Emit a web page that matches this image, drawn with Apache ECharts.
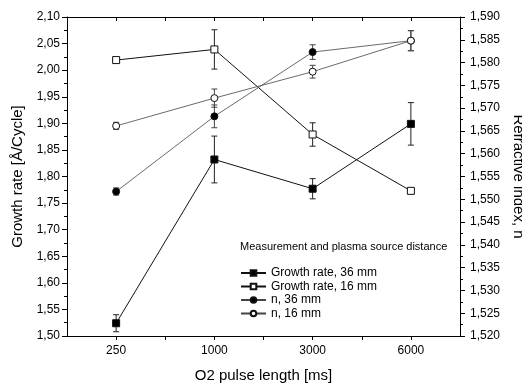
<!DOCTYPE html>
<html>
<head>
<meta charset="utf-8">
<script src="https://cdn.jsdelivr.net/npm/echarts@6/dist/echarts.min.js"></script>
<style>
  html, body { margin: 0; padding: 0; background: #fff; }
  #chart { width: 522px; height: 383px; }
</style>
</head>
<body>
<div id="chart"></div>
<script>
// 脉冲长度分类
var pulses = ['250', '1000', '3000', '6000'];

// 生长速率 (左轴)
var growth36 = [1.524, 1.832, 1.777, 1.899];
var growth36Err = [0.016, 0.044, 0.019, 0.040];
var growth16 = [2.019, 2.039, 1.879, 1.773];
var growth16Err = [0.003, 0.037, 0.022, 0.003];

// 折射率 (右轴)
var n36 = [1.5517, 1.5682, 1.5823, 1.5848];
var n36Err = [0.0008, 0.0025, 0.0016, 0.0022];
var n16 = [1.5661, 1.5722, 1.5780, 1.5848];
var n16Err = [0.0008, 0.0020, 0.0014, 0.0022];

var font = 'Liberation Sans, Arial, sans-serif';

(function(){

var chart = echarts.init(document.getElementById('chart'));

function pts(arr) {
    return arr.map(function (v, i) { return [i, v]; });
}
function errPts(arr, err) {
    return arr.map(function (v, i) { return [i, v - err[i], v + err[i]]; });
}

// 误差棒
function errorBar(name, arr, err, yIndex, color) {
    return {
        name: name + ' err',
        type: 'custom',
        yAxisIndex: yIndex,
        z: 1,
        silent: true,
        data: errPts(arr, err),
        renderItem: function (params, api) {
            var lo = api.coord([api.value(0), api.value(1)]);
            var hi = api.coord([api.value(0), api.value(2)]);
            var w = 3;
            var style = { stroke: color, lineWidth: 1 };
            return {
                type: 'group',
                children: [
                    { type: 'line', shape: { x1: lo[0], y1: lo[1], x2: hi[0], y2: hi[1] }, style: style },
                    { type: 'line', shape: { x1: lo[0] - w, y1: lo[1], x2: lo[0] + w, y2: lo[1] }, style: style },
                    { type: 'line', shape: { x1: hi[0] - w, y1: hi[1], x2: hi[0] + w, y2: hi[1] }, style: style }
                ]
            };
        }
    };
}

function lineSeries(name, arr, yIndex, symbol, size, fill, lineColor, lineWidth) {
    return {
        name: name,
        type: 'line',
        yAxisIndex: yIndex,
        z: 3,
        data: pts(arr),
        symbol: symbol,
        symbolSize: size,
        showAllSymbol: true,
        itemStyle: { color: fill, borderColor: '#111', borderWidth: 1 },
        lineStyle: { color: lineColor, width: lineWidth }
    };
}

var axisLine = { show: true, onZero: false, lineStyle: { color: '#000', width: 1 } };

option = {
    animation: false,
    textStyle: { fontFamily: font },
    grid: {
        left: 67,
        right: 62,
        top: 17,
        bottom: 47,
        outerBoundsMode: 'none'
    },
    graphic: [
        {
            type: 'text',
            left: 240,
            top: 241,
            style: { text: 'Measurement and plasma source distance', fill: '#000', font: '11px ' + font }
        }
    ],
    legend: {
        left: 240,
        top: 267,
        padding: 0,
        orient: 'vertical',
        itemWidth: 25,
        itemHeight: 7,
        itemGap: 1.5,
        textStyle: { fontSize: 12, lineHeight: 12, color: '#000', fontFamily: font },
        data: ['Growth rate, 36 mm', 'Growth rate, 16 mm', 'n, 36 mm', 'n, 16 mm']
    },
    xAxis: [
        {
            type: 'value',
            min: -0.5,
            max: 3.5,
            interval: 0.5,
            name: 'O2 pulse length [ms]',
            nameLocation: 'middle',
            nameGap: 32,
            nameTextStyle: { fontSize: 15, color: '#000' },
            axisLine: axisLine,
            axisTick: { show: true, inside: false, length: 4, lineStyle: { color: '#000' } },
            axisLabel: {
                color: '#000',
                fontSize: 12,
                margin: 9,
                showMinLabel: false,
                showMaxLabel: false,
                formatter: function (v) {
                    return Number.isInteger(v) ? pulses[v] : '';
                }
            },
            splitLine: { show: false }
        },
        {
            type: 'value',
            position: 'top',
            min: -0.5,
            max: 3.5,
            interval: 0.5,
            axisLine: axisLine,
            axisTick: { show: true, inside: true, length: 4, lineStyle: { color: '#000' } },
            axisLabel: { show: false },
            splitLine: { show: false }
        }
    ],
    yAxis: [
        {
            type: 'value',
            min: 1.5,
            max: 2.1,
            interval: 0.05,
            name: 'Growth rate [Å/Cycle]',
            nameLocation: 'middle',
            nameGap: 41,
            nameTextStyle: { fontSize: 15, color: '#000' },
            axisLine: axisLine,
            axisTick: { show: true, length: 5, lineStyle: { color: '#000' } },
            minorTick: { show: true, splitNumber: 2, length: 3, lineStyle: { color: '#000' } },
            axisLabel: {
                color: '#000',
                fontSize: 12,
                margin: 7,
                formatter: function (v) { return v.toFixed(2).replace('.', ','); }
            },
            splitLine: { show: false }
        },
        {
            type: 'value',
            position: 'right',
            min: 1.52,
            max: 1.59,
            interval: 0.005,
            name: 'Refractive index, n',
            nameLocation: 'middle',
            nameGap: 50,
            nameRotate: -90,
            nameTextStyle: { fontSize: 15, color: '#000' },
            axisLine: axisLine,
            axisTick: { show: true, length: 5, lineStyle: { color: '#000' } },
            minorTick: { show: true, splitNumber: 2, length: 3, lineStyle: { color: '#000' } },
            axisLabel: {
                color: '#000',
                fontSize: 12,
                margin: 10,
                formatter: function (v) { return v.toFixed(3).replace('.', ','); }
            },
            splitLine: { show: false }
        }
    ],
    series: [
        errorBar('Growth rate, 36 mm', growth36, growth36Err, 0, '#222'),
        errorBar('Growth rate, 16 mm', growth16, growth16Err, 0, '#222'),
        errorBar('n, 36 mm', n36, n36Err, 1, '#444'),
        errorBar('n, 16 mm', n16, n16Err, 1, '#444'),
        lineSeries('Growth rate, 36 mm', growth36, 0, 'rect', 7, '#000', '#111', 1),
        lineSeries('Growth rate, 16 mm', growth16, 0, 'rect', 7, '#fff', '#111', 1),
        lineSeries('n, 36 mm', n36, 1, 'circle', 7, '#000', '#444', 0.8),
        lineSeries('n, 16 mm', n16, 1, 'circle', 7, '#fff', '#444', 0.8)
    ]
};

chart.setOption(option);
})();
</script>
</body>
</html>
